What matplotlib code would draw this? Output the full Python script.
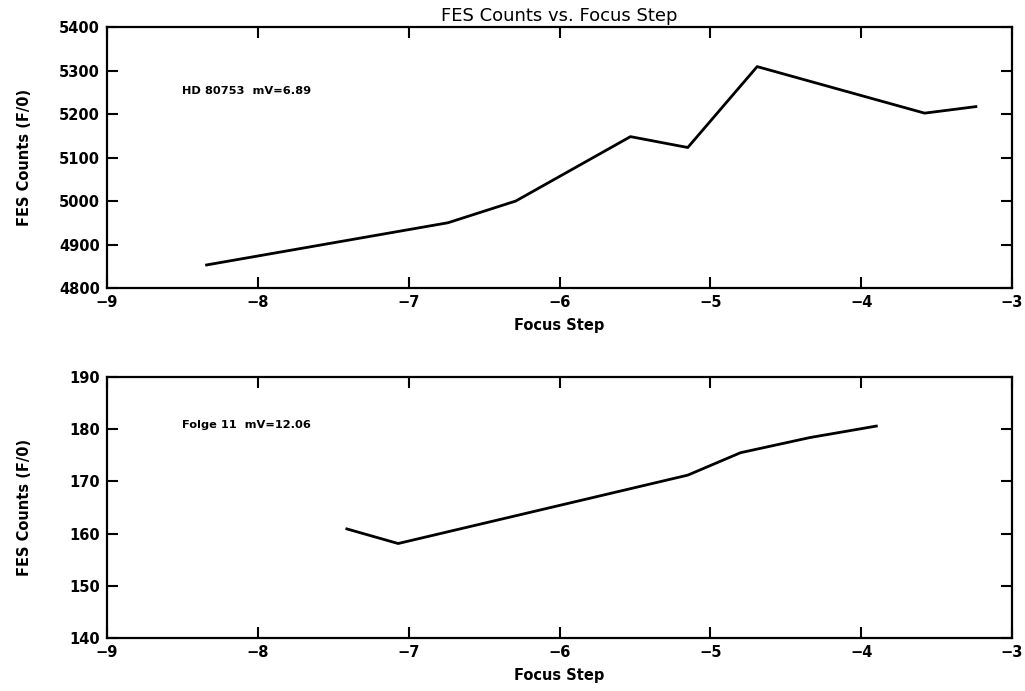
import matplotlib
matplotlib.use('Agg')
import matplotlib.pyplot as plt

# top panel: HD 80753
step_hd = [-8.34, -6.74, -6.29, -5.53, -5.15, -4.69, -3.58, -3.24]
counts_hd = [4853, 4950, 5000, 5148, 5123, 5309, 5202, 5217]

# bottom panel: Folge 11
step_folge = [-7.41, -7.07, -5.15, -4.80, -4.34, -3.90]
counts_folge = [160.9, 158.1, 171.2, 175.5, 178.4, 180.6]

x_ticks = [-9, -8, -7, -6, -5, -4, -3]
y_ticks_hd = [4800, 4900, 5000, 5100, 5200, 5300, 5400]
y_ticks_folge = [140, 150, 160, 170, 180, 190]

plt.rcParams['font.family'] = ['DejaVu Sans']
plt.rcParams['font.weight'] = 'bold'

fig = plt.figure(figsize=(10.25, 6.91), dpi=100)


def style_axes(ax, yticks, ylim):
	ax.set_xlim(-9, -3)
	ax.set_ylim(*ylim)
	ax.set_xticks(x_ticks)
	ax.set_xticklabels([str(t).replace('-', '\u2212') for t in x_ticks])
	ax.set_yticks(yticks)
	ax.tick_params(direction='in', length=8, width=1.5, top=True, right=True,
				labelsize=10.5, pad=5)
	for lab in ax.get_xticklabels() + ax.get_yticklabels():
		lab.set_fontweight('bold')
	for sp in ax.spines.values():
		sp.set_linewidth(1.6)
	ax.set_xlabel("Focus Step", fontsize=10.5, fontweight='bold', labelpad=6)
	ax.set_ylabel("FES Counts (F/0)", fontsize=10.5, fontweight='bold')
	ax.yaxis.set_label_coords(-0.083, 0.5)


ax1 = fig.add_axes([0.1044, 0.5832, 0.8830, 0.3777])
ax1.plot(step_hd, counts_hd, color='black', linewidth=2.0)
style_axes(ax1, y_ticks_hd, (4800, 5400))
ax1.text(-8.5, 5252, "HD 80753  mV=6.89", fontsize=8.2, fontweight='bold', va='center')
ax1.set_title("FES Counts vs. Focus Step", fontsize=13, fontweight='normal', pad=4)

ax2 = fig.add_axes([0.1044, 0.0767, 0.8830, 0.3777])
ax2.plot(step_folge, counts_folge, color='black', linewidth=2.0)
style_axes(ax2, y_ticks_folge, (140, 190))
ax2.text(-8.5, 180.8, "Folge 11  mV=12.06", fontsize=8.2, fontweight='bold', va='center')

fig.savefig("out.png", dpi=100)
